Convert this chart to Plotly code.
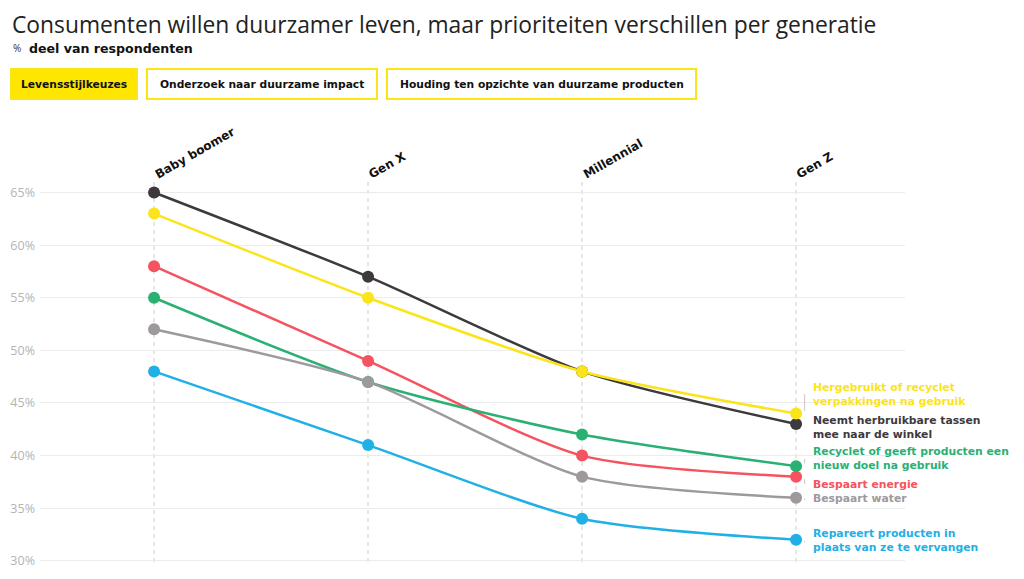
import plotly.graph_objects as go

generations = ["Baby boomer", "Gen X", "Millennial", "Gen Z"]
series_names = [
    "Neemt herbruikbare tassen<br>mee naar de winkel",
    "Hergebruikt of recyclet<br>verpakkingen na gebruik",
    "Bespaart energie",
    "Recyclet of geeft producten een<br>nieuw doel na gebruik",
    "Bespaart water",
    "Repareert producten in<br>plaats van ze te vervangen",
]
tassen = [65, 57, 48, 43]
verpakkingen = [63, 55, 48, 44]
energie = [58, 49, 40, 38]
recyclet = [55, 47, 42, 39]
water = [52, 47, 38, 36]
repareert = [48, 41, 34, 32]
values = [tassen, verpakkingen, energie, recyclet, water, repareert]
colors = ["#3d393d", "#fbe41a", "#f4535f", "#2bb074", "#9d999d", "#21b0e6"]
# label vertical centres (in % units) for the right-hand labels
label_y = [42.7, 45.85, 37.3, 39.7, 35.9, 31.9]
yticks = [30, 35, 40, 45, 50, 55, 60, 65]
tabs = ["Levensstijlkeuzes", "Onderzoek naar duurzame impact", "Houding ten opzichte van duurzame producten"]

FONT = "Open Sans"
BOLD = "DejaVu Sans"
OFF = 8  # page body margin
W, H = 1024 - OFF, 579 - OFF
# plot area in reference-page pixels
L, R, T, B = 40, 905, 182, 564


def px(x):
    return (x - L) / (R - L)


def py(y):
    return (B - y) / (B - T)


xs = list(range(len(generations)))
fig = go.Figure()
for name, vals, col in zip(series_names, values, colors):
    fig.add_trace(go.Scatter(
        x=xs, y=vals, mode="lines+markers", name=name,
        line=dict(color=col, width=2.5, shape="spline", smoothing=0.7),
        marker=dict(color=col, size=12),
        cliponaxis=False, showlegend=False,
        hovertemplate="%{y}%<extra></extra>",
    ))

ann = []
ann.append(dict(text="Consumenten willen duurzamer leven, maar prioriteiten verschillen per generatie",
                xref="paper", yref="paper", x=px(11), y=py(8), xanchor="left", yanchor="top",
                showarrow=False, borderpad=0, font=dict(family=FONT, size=22.8, color="#222222")))
ann.append(dict(text="%", xref="paper", yref="paper", x=px(11), y=py(48), xanchor="left", yanchor="middle",
                showarrow=False, font=dict(family=FONT, size=10, color="#333333")))
ann.append(dict(text="<b>deel van respondenten</b>", xref="paper", yref="paper", x=px(27), y=py(48),
                xanchor="left", yanchor="middle", showarrow=False,
                font=dict(family=BOLD, size=12.6, color="#111111")))

shapes = []
tab_bounds = [(11, 137), (147, 377), (387, 696)]
for i, (t, (x0, x1)) in enumerate(zip(tabs, tab_bounds)):
    shapes.append(dict(type="rect", xref="paper", yref="paper", x0=px(x0), x1=px(x1), y0=py(99), y1=py(69),
                       line=dict(color="#fbe41a", width=2),
                       fillcolor="#ffe600" if i == 0 else "white", layer="above"))
    ann.append(dict(text="<b>" + t + "</b>", xref="paper", yref="paper", x=px((x0 + x1) / 2), y=py(84),
                    xanchor="center", yanchor="middle", showarrow=False,
                    font=dict(family=BOLD, size=10.7, color="#111111")))

for i, g in enumerate(generations):
    ann.append(dict(text="<b>" + g + "</b>", xref="x", yref="paper", x=i - 0.02, y=py(184),
                    xanchor="left", yanchor="bottom", textangle=-30, showarrow=False,
                    font=dict(family=BOLD, size=12, color="#111111")))

for name, ly, col in zip(series_names, label_y, colors):
    ann.append(dict(text="<b>" + name + "</b>", xref="x", yref="y", x=3.072, y=ly,
                    xanchor="left", yanchor="middle", align="left", showarrow=False,
                    font=dict(family=BOLD, size=10.8, color=col)))

for vals, ly in zip(values, label_y):
    end = vals[-1]
    shapes.append(dict(type="line", xref="x", yref="y", x0=3.04, x1=3.04,
                       y0=end + (0.25 if ly > end else -0.25), y1=ly,
                       line=dict(color="#c8c8c8", width=1)))

fig.update_layout(
    width=W, height=H,
    margin=dict(l=L - OFF, r=W - (R - OFF), t=T - OFF, b=H - (B - OFF), pad=4, autoexpand=False),
    paper_bgcolor="white", plot_bgcolor="white",
    font=dict(family=FONT),
    annotations=ann, shapes=shapes,
    xaxis=dict(range=[-0.533, 3.509], tickvals=xs, showticklabels=False, automargin=False,
               showgrid=True, gridcolor="#e6e6e6", griddash="4px,4px", gridwidth=2,
               zeroline=False, showline=False, fixedrange=True),
    yaxis=dict(range=[29.7, 66], tickvals=yticks, ticktext=[f"{v}%" for v in yticks], automargin=False,
               showgrid=True, gridcolor="#ececec", gridwidth=1, zeroline=False, showline=False,
               tickfont=dict(family=FONT, size=12.5, color="#b4b4b4"), fixedrange=True),
)

fig.write_html("out.html")
